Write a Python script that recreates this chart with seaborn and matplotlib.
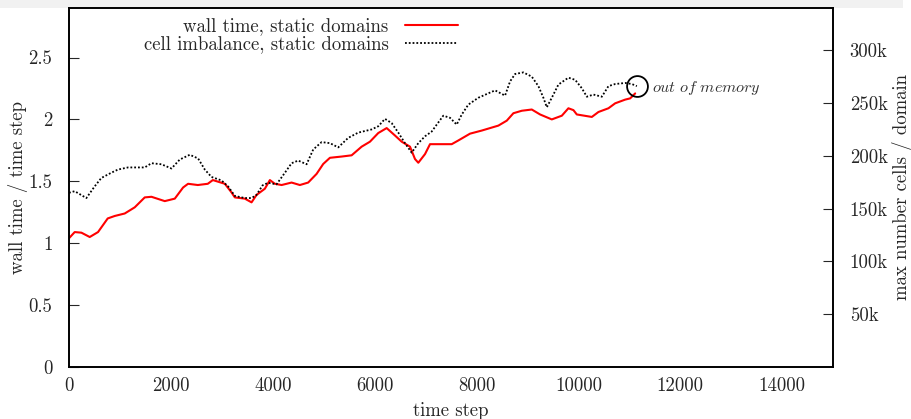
import matplotlib
matplotlib.use("Agg")
import matplotlib.pyplot as plt
import seaborn as sns
import pandas as pd
from matplotlib.patches import Rectangle

# ---- data ----
wall_steps = [0, 112, 244, 407, 570, 760, 898, 1094, 1291, 1487, 1619, 1880, 2077, 2240,
              2338, 2529, 2725, 2824, 3060, 3191, 3256, 3452, 3584, 3682, 3845, 3944, 4042,
              4174, 4370, 4533, 4696, 4861, 4991, 5123, 5353, 5549, 5746, 5909, 6072, 6237,
              6400, 6532, 6695, 6793, 6858, 6990, 7088, 7251, 7514, 7644, 7874, 8104, 8430,
              8595, 8725, 8890, 9086, 9249, 9479, 9676, 9805, 9904, 9970, 10265, 10395, 10591,
              10723, 10920, 11018, 11116]
wall_time = [1.04, 1.09, 1.085, 1.05, 1.09, 1.20, 1.22, 1.24, 1.29, 1.37, 1.375, 1.34, 1.36, 1.45,
             1.48, 1.47, 1.48, 1.51, 1.48, 1.41, 1.37, 1.36, 1.33, 1.39, 1.44, 1.51, 1.48,
             1.47, 1.49, 1.47, 1.49, 1.56, 1.64, 1.69, 1.70, 1.71, 1.78, 1.82, 1.89, 1.93,
             1.87, 1.82, 1.78, 1.68, 1.65, 1.72, 1.80, 1.80, 1.80, 1.83, 1.885, 1.91, 1.95,
             1.99, 2.05, 2.07, 2.08, 2.04, 2.00, 2.03, 2.09, 2.075, 2.04, 2.02, 2.06, 2.09,
             2.13, 2.16, 2.17, 2.21]

cell_steps = [0, 112, 341, 503, 634, 831, 962, 1159, 1487, 1619, 1815, 2012, 2175, 2371, 2535,
              2666, 2797, 2994, 3124, 3256, 3452, 3584, 3682, 3800, 3911, 4075, 4239, 4370,
              4500, 4665, 4795, 4960, 5123, 5286, 5482, 5679, 5942, 6072, 6204, 6335, 6465,
              6596, 6728, 6858, 6990, 7121, 7219, 7349, 7481, 7612, 7710, 7840, 8037, 8365,
              8561, 8660, 8758, 8921, 9086, 9216, 9314, 9381, 9479, 9609, 9805, 9937, 10069,
              10167, 10297, 10462, 10591, 10723, 10920, 11051, 11149]
cell_max_k = [165, 166.5, 160, 171, 179, 184, 187, 189, 189, 193, 192, 188, 196.5, 201, 197.5,
              187, 180, 176.7, 171, 162, 160, 160, 163, 172, 174.5, 173, 184, 193,
              195.5, 192, 206, 213, 212, 208, 217, 222, 225, 228, 235, 231, 222,
              212, 203, 212, 218.5, 223, 229.5, 238, 236, 229.6, 239, 248.5, 255, 262,
              257, 270.5, 277.5, 279, 275, 266, 255, 246, 255, 267.5, 274, 272, 264,
              256, 258, 256, 266, 268, 269, 268, 266]

x_ticks = [0, 2000, 4000, 6000, 8000, 10000, 12000, 14000]
y_left_ticks = [0, 0.5, 1, 1.5, 2, 2.5]
y_left_labels = ["0", "0.5", "1", "1.5", "2", "2.5"]
y_right_ticks_k = [50, 100, 150, 200, 250, 300]
y_right_labels = ["50k", "100k", "150k", "200k", "250k", "300k"]

label_wall = "wall time, static domains"
label_cell = "cell imbalance, static domains"

# ---- style ----
sns.set_style("white")
plt.rcParams.update({
    "font.family": "serif",
    "font.serif": ["cmr10", "DejaVu Serif"],
    "mathtext.fontset": "cm",
    "axes.formatter.use_mathtext": True,
    "axes.unicode_minus": False,
    "axes.edgecolor": "black",
    "axes.linewidth": 1.2,
})
FS = 13.5

fig = plt.figure(figsize=(9.12, 4.19), dpi=100)
fig.add_artist(Rectangle((0, 1 - 8 / 419), 903 / 912, 8 / 419, transform=fig.transFigure,
                         facecolor="#f1f1f1", edgecolor="none", zorder=-5))
ax = fig.add_axes([69 / 912, 1 - 367 / 419, (833 - 69) / 912, (367 - 8) / 419])
ax2 = ax.twinx()

df_wall = pd.DataFrame({"step": wall_steps, "wall": wall_time})
df_cell = pd.DataFrame({"step": cell_steps, "cells": cell_max_k})

sns.lineplot(data=df_wall, x="step", y="wall", ax=ax, color="#ff0000", linewidth=1.5,
             legend=False)
sns.lineplot(data=df_cell, x="step", y="cells", ax=ax2, color="black", linewidth=1.3,
             linestyle=(0, (1.0, 1.1)), legend=False)

# out-of-memory marker at end of imbalance curve
ax2.plot([cell_steps[-1]], [cell_max_k[-1]], marker="o", ms=15, mfc="none", mec="black",
         mew=1.3, linestyle="none")
ax2.annotate(r"$out\ of\ memory$", xy=(cell_steps[-1], cell_max_k[-1]), xytext=(11, -1.5),
             textcoords="offset points", ha="left", va="center", fontsize=11.6, color="#333333")

ax.set_xlim(0, 15000)
ax.set_ylim(0, 2.90)
ax2.set_ylim(0, 340)

ax.set_xticks(x_ticks)
ax.set_xticklabels([str(v) for v in x_ticks], fontsize=FS)
ax.set_yticks(y_left_ticks)
ax.set_yticklabels(y_left_labels, fontsize=FS)
ax2.set_yticks(y_right_ticks_k)
ax2.set_yticklabels(y_right_labels, fontsize=FS)

ax.tick_params(axis="x", direction="in", length=7.5, width=0.8, pad=7, top=False)
ax.tick_params(axis="y", direction="in", length=7.5, width=0.8, pad=12, right=False)
ax2.tick_params(axis="y", direction="in", length=7.5, width=0.8, pad=12)

ax.set_xlabel("time step", fontsize=FS, labelpad=5)
ax.set_ylabel("wall time / time step", fontsize=FS, labelpad=0)
ax2.set_ylabel("max number cells / domain", fontsize=FS, labelpad=3)

for a in (ax, ax2):
    for s in a.spines.values():
        s.set_color("black")
        s.set_linewidth(1.2)

h1 = ax.get_lines()[0]
h2 = ax2.get_lines()[0]
leg = ax2.legend([h1, h2], [label_wall, label_cell], loc="upper right",
                 bbox_to_anchor=(0.509, 0.974), markerfirst=False, frameon=False,
                 fontsize=FS, handlelength=2.8, handletextpad=0.9, borderpad=0,
                 labelspacing=0.0, borderaxespad=0)
for t in leg.get_texts():
    t.set_ha("right")

fig.savefig("out.png", dpi=100)
